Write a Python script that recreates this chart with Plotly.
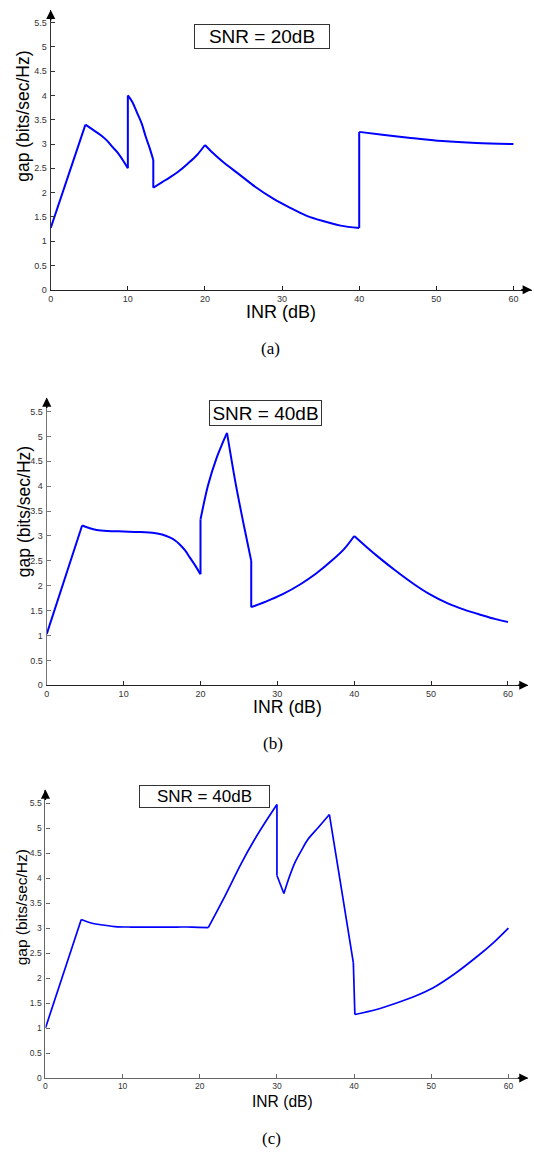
import plotly.graph_objects as go

# ---------------- data ----------------
# (a) SNR = 20 dB
inr_a = [0, 4.5, 5.5, 6.5, 7.3, 8.0, 8.7, 9.3, 10.0, 10.0, 10.6, 11.2, 11.8, 12.3, 12.8, 13.3, 13.3,
         14.5, 15.5, 16.6, 17.8, 19.0, 20.0, 21.0, 22.2, 24.4, 26.6, 28.8, 31.0, 33.2, 35.4, 37.6,
         40.0, 40.0, 43.0, 46.4, 50.8, 55.2, 60.0]
gap_a = [1.27, 3.40, 3.29, 3.18, 3.07, 2.94, 2.82, 2.68, 2.50, 4.00, 3.86, 3.64, 3.42, 3.16, 2.93, 2.67, 2.10,
         2.22, 2.32, 2.44, 2.60, 2.78, 2.98, 2.82, 2.65, 2.38, 2.11, 1.88, 1.69, 1.52, 1.41, 1.32,
         1.27, 3.25, 3.19, 3.13, 3.06, 3.02, 3.00]

# (b) SNR = 40 dB
inr_b = [0, 4.6, 5.5, 6.5, 7.9, 10.0, 12.0, 14.0, 15.0, 16.0, 16.7, 17.3, 18.0, 18.6, 19.3, 20.0,
         20.0, 21.0, 22.1, 22.8, 23.45, 24.6, 25.7, 26.6, 26.6, 28.5, 30.7, 33.0, 35.0, 37.2, 38.7,
         40.0, 41.6, 43.2, 45.4, 47.6, 49.8, 52.1, 54.3, 56.6, 58.4, 60.0]
gap_b = [1.03, 3.21, 3.16, 3.12, 3.10, 3.09, 3.08, 3.06, 3.03, 2.97, 2.91, 2.83, 2.71, 2.57, 2.41, 2.23,
         3.33, 4.03, 4.57, 4.84, 5.07, 4.03, 3.17, 2.50, 1.57, 1.68, 1.83, 2.03, 2.24, 2.52, 2.74,
         3.00, 2.78, 2.57, 2.30, 2.05, 1.83, 1.65, 1.52, 1.41, 1.33, 1.27]

# (c) SNR = 40 dB
inr_c = [0, 4.64, 5.5, 6.5, 7.5, 9.0, 11.0, 13.0, 15.0, 17.0, 19.0, 21.1, 23.26, 25.4, 27.1, 28.3, 30.0,
         30.0, 30.9, 31.6, 32.3, 33.2, 34.0, 35.3, 36.8, 38.3, 39.9, 40.1, 42.9, 45.5, 47.8, 50.2,
         53.0, 56.1, 58.0, 60.0]
gap_c = [1.00, 3.17, 3.12, 3.08, 3.06, 3.03, 3.02, 3.02, 3.02, 3.02, 3.02, 3.01, 3.64, 4.30, 4.77, 5.07, 5.47,
         4.05, 3.69, 4.02, 4.30, 4.56, 4.77, 5.00, 5.27, 3.84, 2.31, 1.27, 1.37, 1.50, 1.63, 1.80,
         2.08, 2.45, 2.70, 3.00]

x_ticks = [0, 10, 20, 30, 40, 50, 60]
y_ticks = [0, 0.5, 1, 1.5, 2, 2.5, 3, 3.5, 4, 4.5, 5, 5.5]
y_tick_text = ["0", "0.5", "1", "1.5", "2", "2.5", "3", "3.5", "4", "4.5", "5", "5.5"]
titles = ["SNR = 20dB", "SNR = 40dB", "SNR = 40dB"]
sub_labels = ["(a)", "(b)", "(c)"]

# indices where the curve has a corner or a jump (drawing style: smooth between them)
breaks_a = [0, 1, 8, 9, 15, 16, 22, 32, 33, 38]
breaks_b = [0, 1, 15, 16, 20, 23, 24, 31, 41]
breaks_c = [0, 1, 11, 16, 17, 18, 24, 26, 27, 35]

# ---------------- layout helpers ----------------
W, H = 534, 1153
SANS = "Liberation Sans, Arial, Helvetica, sans-serif"
SERIF = "Liberation Serif, Times New Roman, serif"

def px(x):
    return x / W

def py(y):
    return 1 - y / H

panels = [
    dict(x0=48.0, x1=531.7, y0=291.0, y1=10.0, xmax=62.37, ymax=5.76, xcol="#222222", ycol="#333333",
         tf=9, lw=2.0,
         box=dict(cx=260.7, cy=36.6, w=134, h=23, fs=19),
         ylab=dict(cx=20.7, cy=116.7, fs=17.5),
         xlab=dict(cx=279.8, cy=313.0, fs=18),
         sub=dict(cx=268.9, cy=350.0, fs=17)),
    dict(x0=44.0, x1=528.3, y0=688.3, y1=399.3, xmax=62.65, ymax=5.78, xcol="#222222", ycol="#777777",
         tf=9, lw=2.0,
         box=dict(cx=263.7, cy=414.7, w=111, h=24, fs=19),
         ylab=dict(cx=20.5, cy=514.0, fs=17.5),
         xlab=dict(cx=286.2, cy=710.0, fs=17.7),
         sub=dict(cx=271.7, cy=746.7, fs=17)),
    dict(x0=42.7, x1=528.3, y0=1082.7, y1=793.0, xmax=62.58, ymax=5.77, xcol="#666666", ycol="#666666",
         tf=8.5, lw=1.7,
         box=dict(cx=202.6, cy=799.5, w=129, h=21, fs=17),
         ylab=dict(cx=18.7, cy=911.7, fs=15.5),
         xlab=dict(cx=280.6, cy=1106.7, fs=15.6),
         sub=dict(cx=270.1, cy=1143.0, fs=17)),
]

series = [(inr_a, gap_a, breaks_a), (inr_b, gap_b, breaks_b), (inr_c, gap_c, breaks_c)]

fig = go.Figure()
annotations = []
layout_axes = {}

for i, (p, (xs, ys, brk)) in enumerate(zip(panels, series)):
    n = "" if i == 0 else str(i + 1)
    xref = "x" + n
    yref = "y" + n
    for s, e in zip(brk[:-1], brk[1:]):
        seg_x = xs[s:e + 1]
        seg_y = ys[s:e + 1]
        shape = "spline" if len(seg_x) > 2 else "linear"
        fig.add_trace(go.Scatter(x=seg_x, y=seg_y, mode="lines", xaxis=xref, yaxis=yref,
                                 line=dict(color="#0000FF", width=p["lw"], shape=shape,
                                           smoothing=0.9 if shape == "spline" else None),
                                 showlegend=False, hoverinfo="x+y"))
    layout_axes["xaxis" + n] = dict(
        domain=[px(p["x0"]), px(p["x1"])], range=[0, p["xmax"]], anchor=yref,
        showline=True, linecolor=p["xcol"], linewidth=1.2, showgrid=False, zeroline=False,
        ticks="inside", ticklen=4, tickwidth=1, tickcolor=p["xcol"],
        tickmode="array", tickvals=x_ticks, ticktext=[str(t) for t in x_ticks],
        tickfont=dict(family=SANS, size=p["tf"], color="#333333"), fixedrange=True)
    layout_axes["yaxis" + n] = dict(
        domain=[py(p["y0"]), py(p["y1"])], range=[0, p["ymax"]], anchor=xref,
        showline=True, linecolor=p["ycol"], linewidth=1.2, showgrid=False, zeroline=False,
        ticks="inside", ticklen=4, tickwidth=1, tickcolor=p["ycol"],
        tickmode="array", tickvals=y_ticks, ticktext=y_tick_text,
        tickfont=dict(family=SANS, size=p["tf"], color="#333333"), fixedrange=True,
        ticklabelstandoff=1)
    # axis arrows
    annotations.append(dict(x=p["xmax"], y=0, xref=xref, yref=yref, text="", showarrow=True,
                            ax=-12, ay=0, arrowhead=2, arrowsize=1.3, arrowwidth=1.4,
                            arrowcolor="#000000", standoff=0))
    annotations.append(dict(x=0, y=p["ymax"], xref=xref, yref=yref, text="", showarrow=True,
                            ax=0, ay=12, arrowhead=2, arrowsize=1.3, arrowwidth=1.4,
                            arrowcolor="#000000", standoff=0))
    # boxed title
    b = p["box"]
    annotations.append(dict(x=px(b["cx"]), y=py(b["cy"]), xref="paper", yref="paper",
                            text=titles[i], showarrow=False, xanchor="center", yanchor="middle",
                            width=b["w"], height=b["h"], borderpad=0, bordercolor="#333333",
                            borderwidth=1, bgcolor="white",
                            font=dict(family=SANS, size=b["fs"], color="#000000")))
    yl = p["ylab"]
    annotations.append(dict(x=px(yl["cx"]), y=py(yl["cy"]), xref="paper", yref="paper",
                            text="gap (bits/sec/Hz)", showarrow=False, textangle=-90,
                            xanchor="center", yanchor="middle",
                            font=dict(family=SANS, size=yl["fs"], color="#000000")))
    xl = p["xlab"]
    annotations.append(dict(x=px(xl["cx"]), y=py(xl["cy"]), xref="paper", yref="paper",
                            text="INR (dB)", showarrow=False, xanchor="center", yanchor="middle",
                            font=dict(family=SANS, size=xl["fs"], color="#000000")))
    sl = p["sub"]
    annotations.append(dict(x=px(sl["cx"]), y=py(sl["cy"]), xref="paper", yref="paper",
                            text=sub_labels[i], showarrow=False, xanchor="center", yanchor="middle",
                            font=dict(family=SERIF, size=sl["fs"], color="#000000")))

fig.update_layout(width=W, height=H, margin=dict(l=0, r=0, t=0, b=0),
                  paper_bgcolor="white", plot_bgcolor="white",
                  annotations=annotations, **layout_axes)

fig.write_html("out.html", config={"displayModeBar": False},
               post_script="document.body.style.margin='0';")
